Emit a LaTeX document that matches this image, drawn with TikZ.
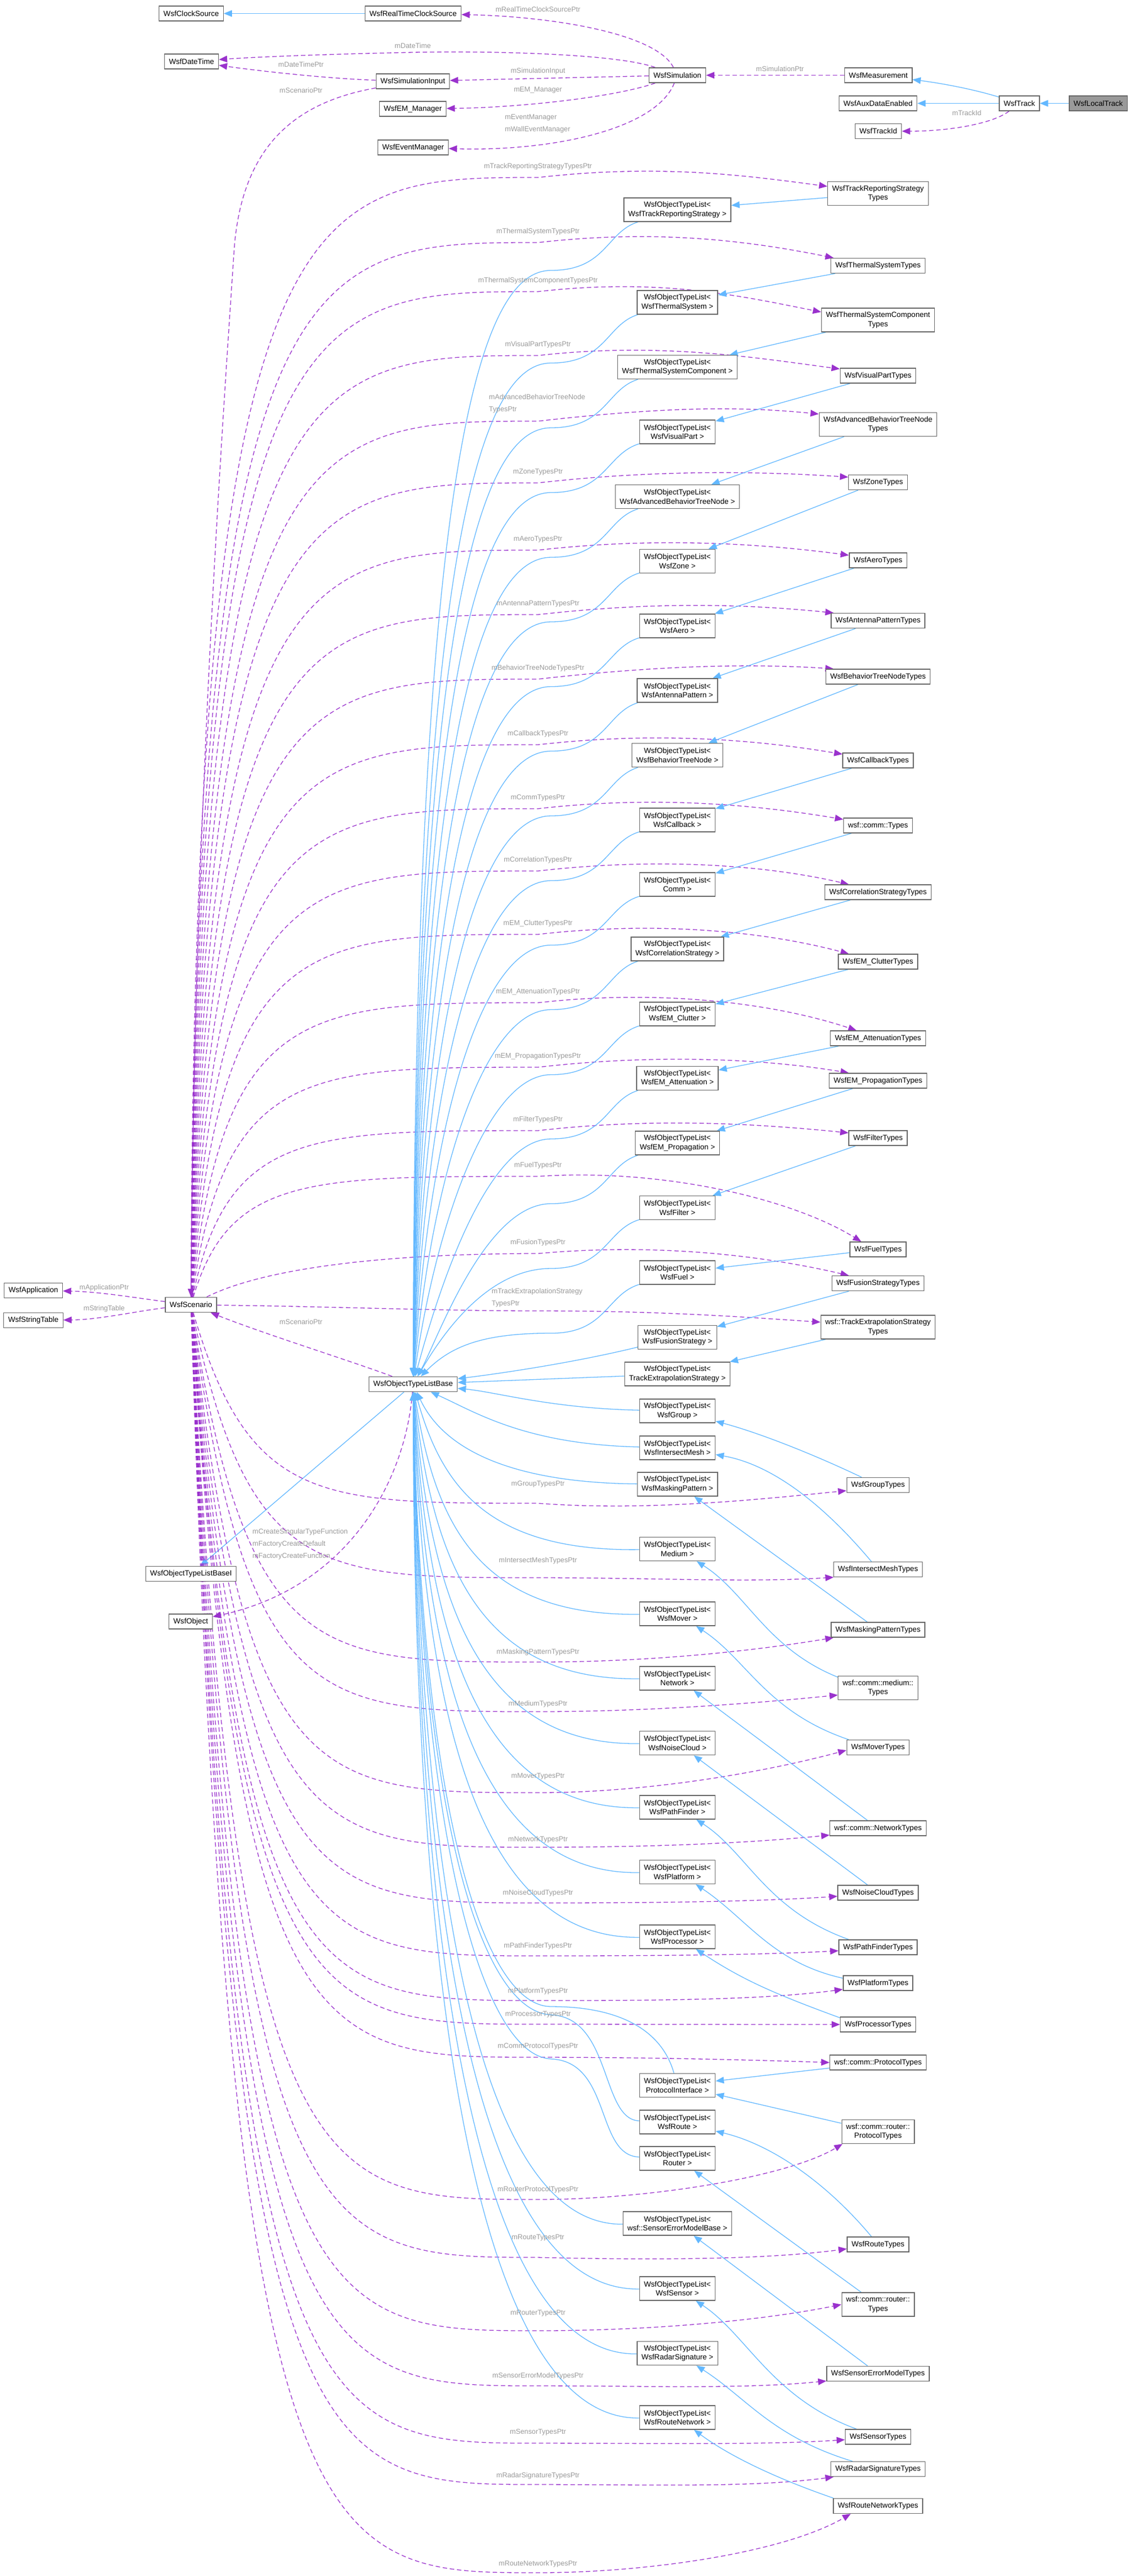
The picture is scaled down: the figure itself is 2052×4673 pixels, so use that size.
\documentclass[tikz,border=0pt]{standalone}
\usepackage{fontspec}
\setmainfont{Liberation Sans}
\usetikzlibrary{arrows.meta}
\definecolor{edgeblue}{HTML}{63B8FF}
\definecolor{edgepurple}{HTML}{9A32CD}
\definecolor{boxline}{HTML}{666666}
\definecolor{labelgray}{HTML}{9A9A9A}
\definecolor{activefill}{HTML}{999999}
\pgfdeclarelayer{edges}
\pgfsetlayers{edges,main}
\begin{document}
\begin{tikzpicture}[x=1pt,y=-1pt,
  cls/.style={draw=boxline,fill=white,line width=1.4pt,font=\fontsize{13.6}{16.6}\selectfont,inner xsep=8pt,inner ysep=0pt,minimum height=27pt},
  clstwo/.style={cls,align=center,minimum height=43pt},
  inherit/.style={draw=edgeblue,line width=1.3pt,-{Triangle[length=15pt,width=12pt]}},
  member/.style={draw=edgepurple,line width=1.3pt,dash pattern=on 8pt off 5pt,-{Triangle[length=15pt,width=12pt]}},
  edgelabel/.style={text=labelgray,font=\fontsize{12.8}{22}\selectfont,inner sep=0pt}]
\useasboundingbox (0,0) rectangle (2052,4673);

\node[cls] (clocksource) at (347,24.5) {WsfClockSource};
\node[cls] (rtclocksource) at (749.5,24.5) {WsfRealTimeClockSource};
\node[cls] (datetime) at (347.5,111.5) {WsfDateTime};
\node[cls] (siminput) at (749,147.5) {WsfSimulationInput};
\node[cls] (emmanager) at (749,197.5) {WsfEM\_Manager};
\node[cls] (eventmanager) at (749.5,267.5) {WsfEventManager};
\node[cls] (simulation) at (1229,136.5) {WsfSimulation};
\node[cls] (measurement) at (1593.5,136.5) {WsfMeasurement};
\node[cls] (auxdata) at (1593,187.5) {WsfAuxDataEnabled};
\node[cls] (trackid) at (1593.5,238) {WsfTrackId};
\node[cls] (track) at (1849.5,187.5) {WsfTrack};
\node[cls,fill=activefill] (localtrack) at (1992.5,187.5) {WsfLocalTrack};

\node[cls] (application) at (60.5,2341) {WsfApplication};
\node[cls] (stringtable) at (60.5,2395) {WsfStringTable};
\node[cls] (scenario) at (346.5,2367) {WsfScenario};
\node[cls] (listbase) at (749.5,2511) {WsfObjectTypeListBase};
\node[cls] (listbaseI) at (346.5,2855) {WsfObjectTypeListBaseI};
\node[cls] (object) at (346,2941.5) {WsfObject};

\node[clstwo] (lTRS) at (1229,380.5) {WsfObjectTypeList<\\WsfTrackReportingStrategy >};
\node[clstwo] (lThermal) at (1229,548.5) {WsfObjectTypeList<\\WsfThermalSystem >};
\node[clstwo] (lTSC) at (1229,666) {WsfObjectTypeList<\\WsfThermalSystemComponent >};
\node[clstwo] (lVisualPart) at (1229,783.5) {WsfObjectTypeList<\\WsfVisualPart >};
\node[clstwo] (lABTN) at (1229,901) {WsfObjectTypeList<\\WsfAdvancedBehaviorTreeNode >};
\node[clstwo] (lZone) at (1229,1018) {WsfObjectTypeList<\\WsfZone >};
\node[clstwo] (lAero) at (1229,1135.5) {WsfObjectTypeList<\\WsfAero >};
\node[clstwo] (lAntenna) at (1229,1252.5) {WsfObjectTypeList<\\WsfAntennaPattern >};
\node[clstwo] (lBTN) at (1229,1370) {WsfObjectTypeList<\\WsfBehaviorTreeNode >};
\node[clstwo] (lCallback) at (1229,1487.5) {WsfObjectTypeList<\\WsfCallback >};
\node[clstwo] (lComm) at (1229,1604.5) {WsfObjectTypeList<\\Comm >};
\node[clstwo] (lCorrelation) at (1229,1721.5) {WsfObjectTypeList<\\WsfCorrelationStrategy >};
\node[clstwo] (lClutter) at (1229,1839.5) {WsfObjectTypeList<\\WsfEM\_Clutter >};
\node[clstwo] (lAttenuation) at (1229,1956) {WsfObjectTypeList<\\WsfEM\_Attenuation >};
\node[clstwo] (lPropagation) at (1229,2073.5) {WsfObjectTypeList<\\WsfEM\_Propagation >};
\node[clstwo] (lFilter) at (1229,2191) {WsfObjectTypeList<\\WsfFilter >};
\node[clstwo] (lFuel) at (1229,2308.5) {WsfObjectTypeList<\\WsfFuel >};
\node[clstwo] (lFusion) at (1229,2426) {WsfObjectTypeList<\\WsfFusionStrategy >};
\node[clstwo] (lExtrapolation) at (1229,2492.5) {WsfObjectTypeList<\\TrackExtrapolationStrategy >};
\node[clstwo] (lGroup) at (1229,2559.5) {WsfObjectTypeList<\\WsfGroup >};
\node[clstwo] (lIntersectMesh) at (1229,2626.5) {WsfObjectTypeList<\\WsfIntersectMesh >};
\node[clstwo] (lMaskingPattern) at (1229,2692.5) {WsfObjectTypeList<\\WsfMaskingPattern >};
\node[clstwo] (lMedium) at (1229,2810) {WsfObjectTypeList<\\Medium >};
\node[clstwo] (lMover) at (1229,2927.5) {WsfObjectTypeList<\\WsfMover >};
\node[clstwo] (lNetwork) at (1229,3044.5) {WsfObjectTypeList<\\Network >};
\node[clstwo] (lNoiseCloud) at (1229,3162) {WsfObjectTypeList<\\WsfNoiseCloud >};
\node[clstwo] (lPathFinder) at (1229,3278.5) {WsfObjectTypeList<\\WsfPathFinder >};
\node[clstwo] (lPlatform) at (1229,3396) {WsfObjectTypeList<\\WsfPlatform >};
\node[clstwo] (lProcessor) at (1229,3513.5) {WsfObjectTypeList<\\WsfProcessor >};
\node[clstwo] (lProtocol) at (1229,3783) {WsfObjectTypeList<\\ProtocolInterface >};
\node[clstwo] (lRoute) at (1229,3849.5) {WsfObjectTypeList<\\WsfRoute >};
\node[clstwo] (lRouter) at (1229,3915.5) {WsfObjectTypeList<\\Router >};
\node[clstwo] (lSensorError) at (1229,4033.5) {WsfObjectTypeList<\\wsf::SensorErrorModelBase >};
\node[clstwo] (lSensor) at (1229,4151.5) {WsfObjectTypeList<\\WsfSensor >};
\node[clstwo] (lRadar) at (1229,4269) {WsfObjectTypeList<\\WsfRadarSignature >};
\node[clstwo] (lRouteNetwork) at (1229,4385.5) {WsfObjectTypeList<\\WsfRouteNetwork >};

\node[clstwo] (tTRS) at (1593,351) {WsfTrackReportingStrategy\\Types};
\node[cls] (tThermal) at (1593,482) {WsfThermalSystemTypes};
\node[clstwo] (tTSC) at (1593,580.5) {WsfThermalSystemComponent\\Types};
\node[cls] (tVisualPart) at (1593,681.5) {WsfVisualPartTypes};
\node[clstwo] (tABTN) at (1593,770) {WsfAdvancedBehaviorTreeNode\\Types};
\node[cls] (tZone) at (1593,875) {WsfZoneTypes};
\node[cls] (tAero) at (1593,1016.5) {WsfAeroTypes};
\node[cls] (tAntenna) at (1593,1126) {WsfAntennaPatternTypes};
\node[cls] (tBTN) at (1593,1227.5) {WsfBehaviorTreeNodeTypes};
\node[cls] (tCallback) at (1593,1379.5) {WsfCallbackTypes};
\node[cls] (tComm) at (1593,1497.5) {wsf::comm::Types};
\node[cls] (tCorrelation) at (1593,1618.5) {WsfCorrelationStrategyTypes};
\node[cls] (tClutter) at (1593,1744.5) {WsfEM\_ClutterTypes};
\node[cls] (tAttenuation) at (1593,1883.5) {WsfEM\_AttenuationTypes};
\node[cls] (tPropagation) at (1593,1960.5) {WsfEM\_PropagationTypes};
\node[cls] (tFilter) at (1593,2064.5) {WsfFilterTypes};
\node[cls] (tFuel) at (1593,2266.5) {WsfFuelTypes};
\node[cls] (tFusion) at (1593,2328) {WsfFusionStrategyTypes};
\node[clstwo] (tExtrapolation) at (1593,2407.5) {wsf::TrackExtrapolationStrategy\\Types};
\node[cls] (tGroup) at (1593,2694) {WsfGroupTypes};
\node[cls] (tIntersectMesh) at (1593,2847) {WsfIntersectMeshTypes};
\node[cls] (tMaskingPattern) at (1593,2956.5) {WsfMaskingPatternTypes};
\node[clstwo] (tMedium) at (1593,3062) {wsf::comm::medium::\\Types};
\node[cls] (tMover) at (1593,3170) {WsfMoverTypes};
\node[cls] (tNetwork) at (1593,3316.5) {wsf::comm::NetworkTypes};
\node[cls] (tNoiseCloud) at (1593,3433.5) {WsfNoiseCloudTypes};
\node[cls] (tPathFinder) at (1593,3532.5) {WsfPathFinderTypes};
\node[cls] (tPlatform) at (1593,3597.5) {WsfPlatformTypes};
\node[cls] (tProcessor) at (1593,3672.5) {WsfProcessorTypes};
\node[cls] (tProtocol) at (1593,3741.5) {wsf::comm::ProtocolTypes};
\node[clstwo] (tRouterProtocol) at (1593,3867) {wsf::comm::router::\\ProtocolTypes};
\node[cls] (tRoute) at (1593,4071.5) {WsfRouteTypes};
\node[clstwo] (tRouter) at (1593,4180.5) {wsf::comm::router::\\Types};
\node[cls] (tSensorError) at (1593,4306) {WsfSensorErrorModelTypes};
\node[cls] (tSensor) at (1593,4420.5) {WsfSensorTypes};
\node[cls] (tRadar) at (1593,4479) {WsfRadarSignatureTypes};
\node[cls] (tRouteNetwork) at (1593,4546) {WsfRouteNetworkTypes};

\begin{pgfonlayer}{edges}
\draw[inherit] (rtclocksource) -- (clocksource);
\draw[inherit] (localtrack) -- (track);
\draw[inherit] (track) -- (auxdata);
\draw[inherit] (track) .. controls (1760,160) and (1700,150) .. (measurement);
\draw[member] (track) .. controls (1800,225) and (1720,238) .. (trackid);
\draw[member] (measurement) -- (simulation);
\draw[member] (simulation) .. controls (1190,60) and (1000,30) .. (rtclocksource);
\draw[member] (simulation) .. controls (1120,98) and (900,92) .. (750,95) .. controls (600,98) and (470,103) .. (datetime);
\draw[member] (simulation) -- (siminput);
\draw[member] (simulation) .. controls (1120,175) and (950,195) .. (emmanager);
\draw[member] (simulation) .. controls (1190,235) and (1000,275) .. (eventmanager);
\draw[member] (siminput) .. controls (600,143) and (480,130) .. (datetime);
\draw[member] (siminput) .. controls (540,185) and (440,260) .. (425,450) .. controls (405,750) and (352,1500) .. (scenario);
\draw[member] (scenario) .. controls (250,2355) and (180,2343) .. (application);
\draw[member] (scenario) .. controls (250,2378) and (180,2394) .. (stringtable);
\draw[member] (listbase) .. controls (640,2470) and (480,2420) .. (scenario);
\draw[inherit] (listbase) -- (listbaseI);
\draw[member] (listbase) .. controls (735,2690) and (630,2880) .. (object);

\draw[member] (scenario) .. controls (352,322) and (560,322) .. (976,322) .. controls +(220,-25) and +(-150,-20) .. (tTRS.172);
\draw[member] (scenario) .. controls (356,440) and (560,440) .. (976,440) .. controls +(220,-25) and +(-150,-30) .. (tThermal.170);
\draw[member] (scenario) .. controls (360,529) and (560,529) .. (976,529) .. controls +(220,-25) and +(-150,-30) .. (tTSC.172);
\draw[member] (scenario) .. controls (364,645) and (560,645) .. (976,645) .. controls +(220,-25) and +(-150,-20) .. (tVisualPart.170);
\draw[member] (scenario) .. controls (368,764) and (560,764) .. (976,764) .. controls +(220,-25) and +(-150,-15) .. (tABTN.170);
\draw[member] (scenario) .. controls (372,876) and (560,876) .. (976,876) .. controls +(220,-25) and +(-150,-10) .. (tZone.170);
\draw[member] (scenario) .. controls (376,998) and (560,998) .. (976,998) .. controls +(220,-25) and +(-150,-20) .. (tAero.170);
\draw[member] (scenario) .. controls (380,1115) and (560,1115) .. (976,1115) .. controls +(220,-25) and +(-150,-15) .. (tAntenna.170);
\draw[member] (scenario) .. controls (384,1232) and (560,1232) .. (976,1232) .. controls +(220,-25) and +(-150,-10) .. (tBTN.170);
\draw[member] (scenario) .. controls (388,1351) and (560,1351) .. (976,1351) .. controls +(220,-25) and +(-150,-25) .. (tCallback.170);
\draw[member] (scenario) .. controls (392,1467) and (560,1467) .. (976,1467) .. controls +(220,-25) and +(-150,-25) .. (tComm.170);
\draw[member] (scenario) .. controls (396,1580) and (560,1580) .. (976,1580) .. controls +(220,-25) and +(-150,-35) .. (tCorrelation.165);
\draw[member] (scenario) .. controls (400,1695) and (560,1695) .. (976,1695) .. controls +(220,-25) and +(-150,-40) .. (tClutter.165);
\draw[member] (scenario) .. controls (404,1819) and (560,1819) .. (976,1819) .. controls +(220,-25) and +(-150,-50) .. (tAttenuation.160);
\draw[member] (scenario) .. controls (408,1936) and (560,1936) .. (976,1936) .. controls +(220,-25) and +(-150,-25) .. (tPropagation.165);
\draw[member] (scenario) .. controls (412,2051) and (560,2051) .. (976,2051) .. controls +(220,-25) and +(-150,-15) .. (tFilter.170);
\draw[member] (scenario) .. controls (416,2134) and (560,2134) .. (976,2134) .. controls +(220,-15) and +(-130,-80) .. (tFuel.155);
\draw[member] (scenario) .. controls (480,2300) and (700,2274) .. (976,2274) .. controls +(220,-20) and +(-150,-35) .. (tFusion.165);
\draw[member] (scenario) .. controls (600,2370) and (800,2378) .. (976,2378) .. controls +(220,0) and +(-150,-10) .. (tExtrapolation.175);

\draw[member] (scenario) .. controls (452,2727) and (580,2727) .. (976,2727) .. controls +(200,15) and +(-150,15) .. (tGroup.190);
\draw[member] (scenario) .. controls (450,2862) and (580,2862) .. (976,2862) .. controls +(200,0) and +(-150,10) .. (tIntersectMesh.190);
\draw[member] (scenario) .. controls (448,3015) and (580,3015) .. (976,3015) .. controls +(200,0) and +(-150,25) .. (tMaskingPattern.190);
\draw[member] (scenario) .. controls (446,3105) and (580,3105) .. (976,3105) .. controls +(200,0) and +(-150,15) .. (tMedium.190);
\draw[member] (scenario) .. controls (444,3252) and (580,3252) .. (976,3252) .. controls +(200,0) and +(-150,40) .. (tMover.185);
\draw[member] (scenario) .. controls (442,3351) and (580,3351) .. (976,3351) .. controls +(200,0) and +(-150,15) .. (tNetwork.188);
\draw[member] (scenario) .. controls (440,3452) and (580,3452) .. (976,3452) .. controls +(200,0) and +(-150,10) .. (tNoiseCloud.185);
\draw[member] (scenario) .. controls (438,3548) and (580,3548) .. (976,3548) .. controls +(200,0) and +(-150,8) .. (tPathFinder.185);
\draw[member] (scenario) .. controls (436,3629) and (580,3629) .. (976,3629) .. controls +(200,0) and +(-150,20) .. (tPlatform.190);
\draw[member] (scenario) .. controls (434,3672) and (580,3672) .. (976,3672) .. controls +(200,0) and +(-150,0) .. (tProcessor.180);
\draw[member] (scenario) .. controls (432,3732) and (580,3732) .. (976,3732) .. controls +(200,0) and +(-150,-5) .. (tProtocol.180);
\draw[member] (scenario) .. controls (430,3990) and (580,3990) .. (976,3990) .. controls +(200,0) and +(-100,60) .. (tRouterProtocol.199);
\draw[member] (scenario) .. controls (428,4095) and (580,4095) .. (976,4095) .. controls +(200,5) and +(-150,20) .. (tRoute.188);
\draw[member] (scenario) .. controls (426,4228) and (580,4228) .. (976,4228) .. controls +(200,0) and +(-150,30) .. (tRouter.180);
\draw[member] (scenario) .. controls (424,4328) and (580,4328) .. (976,4328) .. controls +(200,0) and +(-150,15) .. (tSensorError.188);
\draw[member] (scenario) .. controls (422,4432) and (580,4432) .. (976,4432) .. controls +(200,0) and +(-150,10) .. (tSensor.185);
\draw[member] (scenario) .. controls (420,4507) and (580,4507) .. (976,4507) .. controls +(200,0) and +(-150,20) .. (tRadar.190);
\draw[member] (scenario) .. controls (418,4667) and (580,4667) .. (976,4667) .. controls +(200,0) and +(-120,70) .. (tRouteNetwork.196);

\draw[inherit] (tTRS) -- (lTRS);
\draw[inherit] (tThermal) -- (lThermal);
\draw[inherit] (tTSC) -- (lTSC);
\draw[inherit] (tVisualPart) -- (lVisualPart);
\draw[inherit] (tABTN) -- (lABTN);
\draw[inherit] (tZone) -- (lZone);
\draw[inherit] (tAero) -- (lAero);
\draw[inherit] (tAntenna) -- (lAntenna);
\draw[inherit] (tBTN) -- (lBTN);
\draw[inherit] (tCallback) -- (lCallback);
\draw[inherit] (tComm) -- (lComm);
\draw[inherit] (tCorrelation) -- (lCorrelation);
\draw[inherit] (tClutter) -- (lClutter);
\draw[inherit] (tAttenuation) -- (lAttenuation);
\draw[inherit] (tPropagation) -- (lPropagation);
\draw[inherit] (tFilter) -- (lFilter);
\draw[inherit] (tFuel) -- (lFuel);
\draw[inherit] (tFusion) -- (lFusion);
\draw[inherit] (tExtrapolation) -- (lExtrapolation);
\draw[inherit] (tGroup) .. controls (1480,2640) and (1380,2600) .. (lGroup);
\draw[inherit] (tIntersectMesh) .. controls (1520,2760) and (1420,2660) .. (lIntersectMesh);
\draw[inherit] (tMaskingPattern) -- (lMaskingPattern);
\draw[inherit] (tMedium.165) .. controls (1390,2990) and (1355,2890) .. (lMedium);
\draw[inherit] (tMover.165) .. controls (1390,3105) and (1355,3010) .. (lMover);
\draw[inherit] (tNetwork) -- (lNetwork);
\draw[inherit] (tNoiseCloud) -- (lNoiseCloud);
\draw[inherit] (tPathFinder.165) .. controls (1390,3465) and (1355,3360) .. (lPathFinder);
\draw[inherit] (tPlatform.172) .. controls (1400,3560) and (1355,3480) .. (lPlatform);
\draw[inherit] (tProcessor.170) .. controls (1400,3615) and (1345,3590) .. (lProcessor);
\draw[inherit] (tProtocol) -- (lProtocol);
\draw[inherit] (tRouterProtocol) -- (lProtocol);
\draw[inherit] (tRoute) .. controls (1500,3960) and (1400,3890) .. (lRoute);
\draw[inherit] (tRouter) -- (lRouter);
\draw[inherit] (tSensorError) -- (lSensorError);
\draw[inherit] (tSensor.160) .. controls (1400,4350) and (1355,4235) .. (lSensor);
\draw[inherit] (tRadar.163) .. controls (1400,4420) and (1355,4350) .. (lRadar);
\draw[inherit] (tRouteNetwork.170) .. controls (1420,4500) and (1330,4460) .. (lRouteNetwork);

\draw[inherit] (lTRS) .. controls (1100,420.5) and (1100,490.5) .. (1000,490.5) .. controls (880,490.5) and (752,780) .. (listbase);
\draw[inherit] (lThermal) .. controls (1100,588.5) and (1100,658.5) .. (1000,658.5) .. controls (880,658.5) and (755,950) .. (listbase);
\draw[inherit] (lTSC) .. controls (1100,706) and (1100,776) .. (1000,776) .. controls (880,776) and (758,1066) .. (listbase);
\draw[inherit] (lVisualPart) .. controls (1100,823.5) and (1100,893.5) .. (1000,893.5) .. controls (880,893.5) and (761,1183.5) .. (listbase);
\draw[inherit] (lABTN) .. controls (1100,941) and (1100,1011) .. (1000,1011) .. controls (880,1011) and (764,1301) .. (listbase);
\draw[inherit] (lZone) .. controls (1100,1058) and (1100,1128) .. (1000,1128) .. controls (880,1128) and (767,1418) .. (listbase);
\draw[inherit] (lAero) .. controls (1100,1175.5) and (1100,1245.5) .. (1000,1245.5) .. controls (880,1245.5) and (770,1535.5) .. (listbase);
\draw[inherit] (lAntenna) .. controls (1100,1292.5) and (1100,1362.5) .. (1000,1362.5) .. controls (880,1362.5) and (773,1652.5) .. (listbase);
\draw[inherit] (lBTN) .. controls (1100,1410) and (1100,1480) .. (1000,1480) .. controls (880,1480) and (776,1770) .. (listbase);
\draw[inherit] (lCallback) .. controls (1100,1527.5) and (1100,1597.5) .. (1000,1597.5) .. controls (880,1597.5) and (779,1887.5) .. (listbase);
\draw[inherit] (lComm) .. controls (1100,1644.5) and (1100,1714.5) .. (1000,1714.5) .. controls (880,1714.5) and (782,2004.5) .. (listbase);
\draw[inherit] (lCorrelation) .. controls (1100,1761.5) and (1100,1831.5) .. (1000,1831.5) .. controls (880,1831.5) and (785,2121.5) .. (listbase);
\draw[inherit] (lClutter) .. controls (1100,1879.5) and (1100,1949.5) .. (1000,1949.5) .. controls (880,1949.5) and (788,2239.5) .. (listbase);
\draw[inherit] (lAttenuation) .. controls (1100,1996) and (1100,2066) .. (1000,2066) .. controls (880,2066) and (791,2356) .. (listbase);
\draw[inherit] (lPropagation) .. controls (1100,2113.5) and (1100,2183.5) .. (1000,2183.5) .. controls (880,2183.5) and (794,2430) .. (listbase);
\draw[inherit] (lFilter) .. controls (1100,2231) and (1100,2301) .. (1000,2301) .. controls (880,2301) and (797,2430) .. (listbase);
\draw[inherit] (lFuel) .. controls (1100,2348.5) and (1100,2418.5) .. (1000,2418.5) .. controls (880,2418.5) and (820,2440) .. (listbase);
\draw[inherit] (lFusion) .. controls (1050,2470) and (920,2490) .. (listbase);
\draw[inherit] (lExtrapolation) -- (listbase);
\draw[inherit] (lGroup) .. controls (1000,2555) and (900,2525) .. (listbase);
\draw[inherit] (lIntersectMesh) .. controls (950,2620) and (860,2560) .. (listbase);
\draw[inherit] (lMaskingPattern) .. controls (950,2690) and (810,2640) .. (listbase);
\draw[inherit] (lMedium) .. controls (880,2815) and (800,2690) .. (listbase);
\draw[inherit] (lMover) .. controls (870,2932) and (790,2766) .. (listbase);
\draw[inherit] (lNetwork) .. controls (870,3049) and (785,2836) .. (listbase);
\draw[inherit] (lNoiseCloud) .. controls (870,3167) and (780,2907) .. (listbase);
\draw[inherit] (lPathFinder) .. controls (870,3283) and (776,2977) .. (listbase);
\draw[inherit] (lPlatform) .. controls (870,3401) and (772,3047) .. (listbase);
\draw[inherit] (lProcessor) .. controls (870,3518) and (768,3118) .. (listbase);
\draw[inherit] (lProtocol) .. controls (1200,3680) and (1120,3640) .. (1000,3640) .. controls (880,3640) and (765,3300) .. (listbase);
\draw[inherit] (lRoute) .. controls (1090,3845) and (1110,3660) .. (1000,3655) .. controls (880,3650) and (762,3330) .. (listbase);
\draw[inherit] (lRouter) .. controls (1080,3910) and (1110,3740) .. (1000,3735) .. controls (880,3730) and (760,3360) .. (listbase);
\draw[inherit] (lSensorError) .. controls (870,4038) and (760,3430) .. (listbase);
\draw[inherit] (lSensor) .. controls (870,4156) and (756,3500) .. (listbase);
\draw[inherit] (lRadar) .. controls (870,4274) and (753,3571) .. (listbase);
\draw[inherit] (lRouteNetwork) .. controls (870,4390) and (750,3641) .. (listbase);
\end{pgfonlayer}

\node[edgelabel] at (976,17) {mRealTimeClockSourcePtr};
\node[edgelabel] at (749,83) {mDateTime};
\node[edgelabel] at (546,117) {mDateTimePtr};
\node[edgelabel] at (976,129) {mSimulationInput};
\node[edgelabel] at (546,164) {mScenarioPtr};
\node[edgelabel] at (976,163) {mEM\_Manager};
\node[edgelabel,anchor=west,align=left] at (916,224) {mEventManager\\mWallEventManager};
\node[edgelabel] at (1415,125) {mSimulationPtr};
\node[edgelabel] at (1754,205) {mTrackId};
\node[edgelabel] at (189,2336) {mApplicationPtr};
\node[edgelabel] at (189,2374) {mStringTable};
\node[edgelabel] at (546,2398) {mScenarioPtr};
\node[edgelabel,anchor=west,align=left] at (458,2801.5) {mCreateSingularTypeFunction\\mFactoryCreateDefault\\mFactoryCreateFunction};

\node[edgelabel] at (976,302) {mTrackReportingStrategyTypesPtr};
\node[edgelabel] at (976,420) {mThermalSystemTypesPtr};
\node[edgelabel] at (976,509) {mThermalSystemComponentTypesPtr};
\node[edgelabel] at (976,625) {mVisualPartTypesPtr};
\node[edgelabel,anchor=west,align=left] at (887,732) {mAdvancedBehaviorTreeNode\\TypesPtr};
\node[edgelabel] at (976,856) {mZoneTypesPtr};
\node[edgelabel] at (976,978) {mAeroTypesPtr};
\node[edgelabel] at (976,1095) {mAntennaPatternTypesPtr};
\node[edgelabel] at (976,1212) {mBehaviorTreeNodeTypesPtr};
\node[edgelabel] at (976,1331) {mCallbackTypesPtr};
\node[edgelabel] at (976,1447) {mCommTypesPtr};
\node[edgelabel] at (976,1560) {mCorrelationTypesPtr};
\node[edgelabel] at (976,1675) {mEM\_ClutterTypesPtr};
\node[edgelabel] at (976,1799) {mEM\_AttenuationTypesPtr};
\node[edgelabel] at (976,1916) {mEM\_PropagationTypesPtr};
\node[edgelabel] at (976,2031) {mFilterTypesPtr};
\node[edgelabel] at (976,2114) {mFuelTypesPtr};
\node[edgelabel] at (976,2254) {mFusionTypesPtr};
\node[edgelabel,anchor=west,align=left] at (892,2354.5) {mTrackExtrapolationStrategy\\TypesPtr};
\node[edgelabel] at (976,2692) {mGroupTypesPtr};
\node[edgelabel] at (976,2831) {mIntersectMeshTypesPtr};
\node[edgelabel] at (976,2997) {mMaskingPatternTypesPtr};
\node[edgelabel] at (976,3091) {mMediumTypesPtr};
\node[edgelabel] at (976,3222) {mMoverTypesPtr};
\node[edgelabel] at (976,3337) {mNetworkTypesPtr};
\node[edgelabel] at (976,3434) {mNoiseCloudTypesPtr};
\node[edgelabel] at (976,3530) {mPathFinderTypesPtr};
\node[edgelabel] at (976,3612) {mPlatformTypesPtr};
\node[edgelabel] at (976,3654) {mProcessorTypesPtr};
\node[edgelabel] at (976,3712) {mCommProtocolTypesPtr};
\node[edgelabel] at (976,3972) {mRouterProtocolTypesPtr};
\node[edgelabel] at (976,4059) {mRouteTypesPtr};
\node[edgelabel] at (976,4196) {mRouterTypesPtr};
\node[edgelabel] at (976,4310) {mSensorErrorModelTypesPtr};
\node[edgelabel] at (976,4412) {mSensorTypesPtr};
\node[edgelabel] at (976,4491) {mRadarSignatureTypesPtr};
\node[edgelabel] at (976,4651) {mRouteNetworkTypesPtr};

\end{tikzpicture}
\end{document}
